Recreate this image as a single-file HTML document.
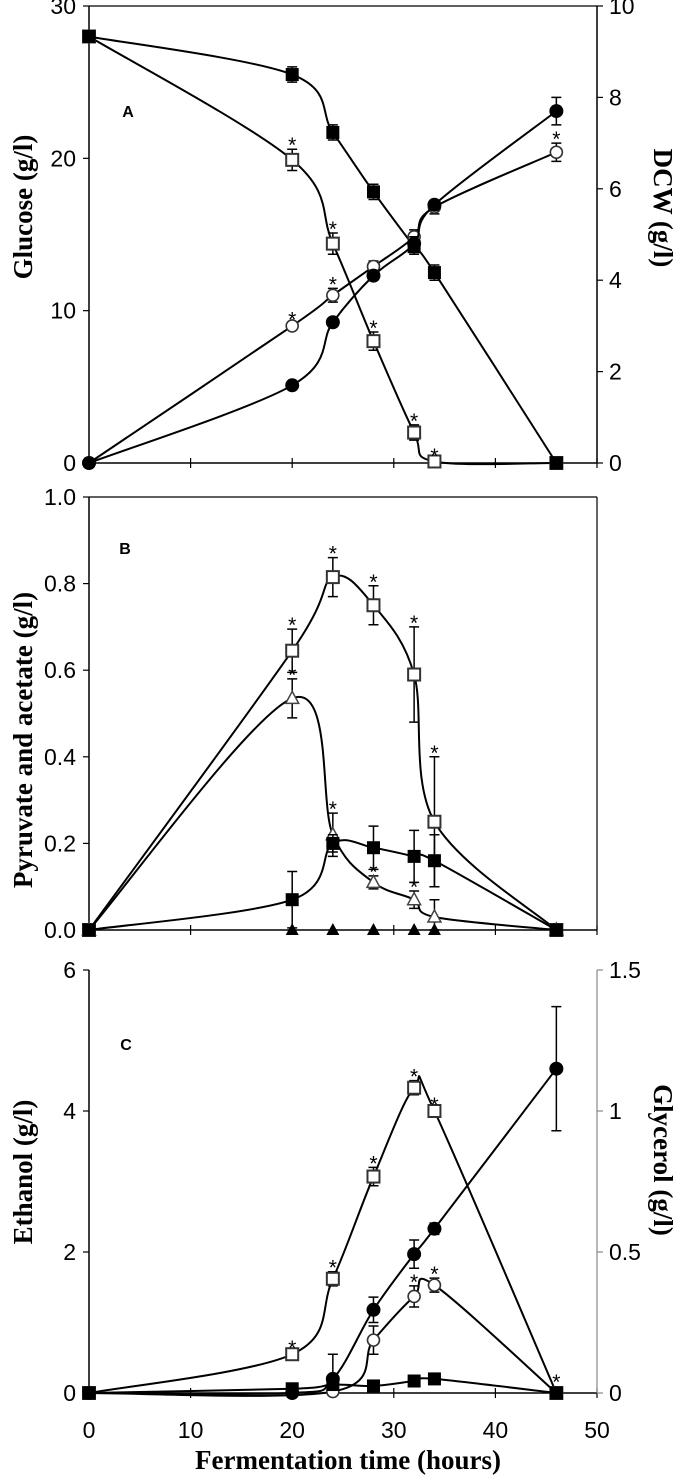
<!DOCTYPE html>
<html><head><meta charset="utf-8"><style>
html,body{margin:0;padding:0;background:#fff;}
svg{display:block;}
.tk{font-family:"Liberation Sans",sans-serif;font-size:23px;fill:#000;}
.ttl{font-family:"Liberation Serif",serif;font-weight:bold;font-size:27px;fill:#000;}
.pl{font-family:"Liberation Sans",sans-serif;font-weight:bold;font-size:16px;}
.st{font-family:"Liberation Sans",sans-serif;font-size:21px;}
</style></head><body>
<svg id="chart" width="680" height="1477" viewBox="0 0 680 1477" xmlns="http://www.w3.org/2000/svg"></svg>
<script>
const times=[0,20,24,28,32,34,46];
// Panel A
const glucCtrl=[28,25.5,21.7,17.8,14.2,12.5,0];
const glucCtrlErr=[0,0.5,0.5,0.5,0.5,0.5,0];
const glucTreat=[28,19.9,14.4,8.0,2.0,0.1,0];
const glucTreatErr=[0,0.7,0.7,0.6,0.5,0.1,0];
const dcwCtrl=[0,1.7,3.08,4.1,4.8,5.65,7.7];
const dcwCtrlErr=[0,0.05,0.05,0.08,0.15,0.1,0.3];
const dcwTreat=[0,3.0,3.67,4.3,4.95,5.6,6.8];
const dcwTreatErr=[0,0.05,0.15,0.12,0.15,0.15,0.2];
// Panel B
const pyrTreat=[0,0.645,0.815,0.75,0.59,0.25,0];
const pyrTreatErr=[0,0.05,0.045,0.045,0.11,0.15,0];
const acTreat=[0,0.535,0.22,0.11,0.07,0.03,0];
const acTreatErr=[0,0.045,0.05,0.015,0.02,0.04,0];
const pyrCtrl=[0,0.07,0.2,0.19,0.17,0.16,0];
const pyrCtrlErr=[0,0.065,0.02,0.05,0.06,0.06,0];
const acCtrl=[0,0,0,0,0];
const acCtrlTimes=[20,24,28,32,34];
// Panel C
const ethTreat=[0,0.55,1.62,3.07,4.33,4.0,0];
const ethTreatErr=[0,0.03,0.1,0.13,0.1,0.03,0];
const ethCtrl=[0,0,0.2,1.18,1.97,2.33,4.6];
const ethCtrlErr=[0,0,0.35,0.18,0.2,0.08,0.88];
const glyTreat=[0,0.02,0.75,1.37,1.53,0];
const glyTreatTimes=[0,24,28,32,34,46];
const glyTreatErr=[0,0,0.2,0.15,0.1,0];
const glyCtrl=[0,0.06,0.12,0.1,0.17,0.2,0];
const xTicks=[0,10,20,30,40,50];
const yTicksA=[0,10,20,30];
const yTicksAR=[0,2,4,6,8,10];
const yTicksB=["0.0","0.2","0.4","0.6","0.8","1.0"];
const yTicksC=[0,2,4,6];
const yTicksCR=["0","0.5","1","1.5"];

const NS="http://www.w3.org/2000/svg";
const svg=document.getElementById('chart');
function mk(tag,attrs,parent){const e=document.createElementNS(NS,tag);for(const k in attrs)e.setAttribute(k,attrs[k]);(parent||svg).appendChild(e);return e;}
const X0=89,X1=597;
const xs=v=>X0+(X1-X0)*v/50;
function ysc(top,bot,max){return v=>bot-(bot-top)*v/max;}
const yA=ysc(6,463,30), yAR=ysc(6,463,10);
const yB=ysc(497,930,1.0);
const yC=ysc(970,1393,6), yCR=ysc(970,1393,1.5);

function smooth(pts){
  let d=`M${pts[0][0]},${pts[0][1]}`;
  for(let i=0;i<pts.length-1;i++){
    const p0=pts[Math.max(0,i-1)],p1=pts[i],p2=pts[i+1],p3=pts[Math.min(pts.length-1,i+2)];
    const t=1/6;
    const c1=[p1[0]+(p2[0]-p0[0])*t,p1[1]+(p2[1]-p0[1])*t];
    const c2=[p2[0]-(p3[0]-p1[0])*t,p2[1]-(p3[1]-p1[1])*t];
    d+=` C${c1[0]},${c1[1]} ${c2[0]},${c2[1]} ${p2[0]},${p2[1]}`;
  }
  return d;
}
function series(name,tx,vals,errs,y,marker,stars,g){
  const pts=vals.map((v,i)=>[xs(tx[i]),y(v)]);
  const p=mk('path',{d:smooth(pts),fill:'none',stroke:'#000','stroke-width':2},g);
  
  
  vals.forEach((v,i)=>{
    const cx=xs(tx[i]),cy=y(v);
    if(errs&&errs[i]>0){
      const e=errs[i],y1=y(v+e),y2=y(Math.max(0,v-e));
      const eb=mk('path',{d:`M${cx},${y1}V${y2}M${cx-5},${y1}H${cx+5}M${cx-5},${y2}H${cx+5}`,stroke:'#000','stroke-width':1.5,fill:'none'},g);
      
      
    }
    drawMarker(marker,cx,cy,name,g);
    if(stars&&stars.includes(i)){
      const top=errs&&errs[i]>0?y(v+errs[i]):cy-7;
      const s=mk('text',{x:cx,y:top+3,'text-anchor':'middle',class:'st'},g);s.textContent='*';
      
      
    }
  });
}
function drawMarker(m,cx,cy,name,g){
  let e;
  if(m==='fsq')e=mk('rect',{x:cx-6.5,y:cy-6.5,width:13,height:13,fill:'#000'},g);
  else if(m==='osq')e=mk('rect',{x:cx-6,y:cy-6,width:12,height:12,fill:'#fff',stroke:'#333','stroke-width':2},g);
  else if(m==='fci')e=mk('circle',{cx,cy,r:7,fill:'#000'},g);
  else if(m==='oci')e=mk('circle',{cx,cy,r:6,fill:'#fff',stroke:'#333','stroke-width':1.6},g);
  else if(m==='otr')e=mk('path',{d:`M${cx},${cy-7}L${cx+6.5},${cy+5}L${cx-6.5},${cy+5}Z`,fill:'#fff',stroke:'#444','stroke-width':1.5},g);
  else e=mk('path',{d:`M${cx},${cy-7}L${cx+6.5},${cy+5}L${cx-6.5},${cy+5}Z`,fill:'#000'},g);
  
  
}
function frame(g,top,bot,box){
  mk('line',{x1:X0,y1:top,x2:X0,y2:bot,stroke:'#000','stroke-width':1.5},g);
  mk('line',{x1:X0,y1:bot,x2:X1,y2:bot,stroke:'#000','stroke-width':1.5},g);
  if(box){mk('line',{x1:X0,y1:top,x2:X1,y2:top,stroke:'#000','stroke-width':1.2},g);}
  xTicks.forEach(t=>mk('line',{x1:xs(t),y1:bot-5,x2:xs(t),y2:bot+5,stroke:'#000','stroke-width':1.2},g));
}
function yaxis(g,ticks,y,x,left,color,name){
  const ax=mk('g',{},g);
  ticks.forEach(t=>{
    const yy=y(parseFloat(t));
    mk('line',{x1:left?x-6:x,y1:yy,x2:left?x:x+6,y2:yy,stroke:color,'stroke-width':1.2},ax);
    const tx=mk('text',{x:left?x-13:x+12,y:yy+8,'text-anchor':left?'end':'start',class:'tk'},ax);tx.textContent=t;
  });
}
function label(g,txt,x,y,rot,name,cls){
  const t=mk('text',{x,y,'text-anchor':'middle',class:cls||'ttl',transform:rot?`rotate(${rot} ${x} ${y})`:''},g);
  t.textContent=txt;
}
// Panel A
const gA=mk('g',{});
frame(gA,6,463,true);
mk('line',{x1:X1,y1:6,x2:X1,y2:463,stroke:'#000','stroke-width':1.5},gA);
yaxis(gA,yTicksA,yA,X0,true,'#000','glucose-y-axis');
yaxis(gA,yTicksAR,yAR,X1,false,'#000','dcw-y-axis');
label(gA,'Glucose (g/l)',32,207,-90,'glucose-axis-title');
label(gA,'DCW (g/l)',654,208,90,'dcw-axis-title');
label(gA,'A',128,117,0,'panel-a-label','pl');
series('glucose-treated',times,glucTreat,glucTreatErr,yA,'osq',[1,2,3,4,5],gA);
series('glucose-control',times,glucCtrl,glucCtrlErr,yA,'fsq',[],gA);
series('dcw-treated',times,dcwTreat,dcwTreatErr,yAR,'oci',[1,2,6],gA);
series('dcw-control',times,dcwCtrl,dcwCtrlErr,yAR,'fci',[],gA);
// Panel B
const gB=mk('g',{});
frame(gB,497,930,true);
mk('line',{x1:X1,y1:497,x2:X1,y2:930,stroke:'#000','stroke-width':1.2},gB);
yaxis(gB,yTicksB,yB,X0,true,'#000','pyruvate-acetate-y-axis');
label(gB,'Pyruvate and acetate (g/l)',32,740,-90,'pyruvate-acetate-axis-title');
label(gB,'B',125,554,0,'panel-b-label','pl');
series('pyruvate-treated',times,pyrTreat,pyrTreatErr,yB,'osq',[1,2,3,4,5],gB);
series('acetate-treated',times,acTreat,acTreatErr,yB,'otr',[1,2,3,4],gB);
series('pyruvate-control',times,pyrCtrl,pyrCtrlErr,yB,'fsq',[],gB);
acCtrl.forEach((v,i)=>drawMarker('ftr',xs(acCtrlTimes[i]),yB(v),'acetate-control',gB));
// Panel C
const gC=mk('g',{});
frame(gC,970,1393,false);
mk('line',{x1:X1,y1:970,x2:X1,y2:1393,stroke:'#888','stroke-width':1.2},gC);
yaxis(gC,yTicksC,yC,X0,true,'#000','ethanol-y-axis');
yaxis(gC,yTicksCR,yCR,X1,false,'#888','glycerol-y-axis');
label(gC,'Ethanol  (g/l)',32,1172,-90,'ethanol-axis-title');
label(gC,'Glycerol (g/l)',654,1160,90,'glycerol-axis-title');
label(gC,'C',126,1050,0,'panel-c-label','pl');
const xa=mk('g',{},gC);
xTicks.forEach(t=>{const tx=mk('text',{x:xs(t),y:1438,'text-anchor':'middle',class:'tk'},xa);tx.textContent=t;});
label(gC,'Fermentation time (hours)',348,1469,0,'x-axis-title');
series('ethanol-treated',times,ethTreat,ethTreatErr,yC,'osq',[1,2,3,4,5,6],gC);
series('ethanol-control',times,ethCtrl,ethCtrlErr,yC,'fci',[],gC);
series('glycerol-treated',glyTreatTimes,glyTreat,glyTreatErr,yC,'oci',[3,4],gC);
series('glycerol-control',times,glyCtrl,null,yC,'fsq',[],gC);
</script>
</body></html>
